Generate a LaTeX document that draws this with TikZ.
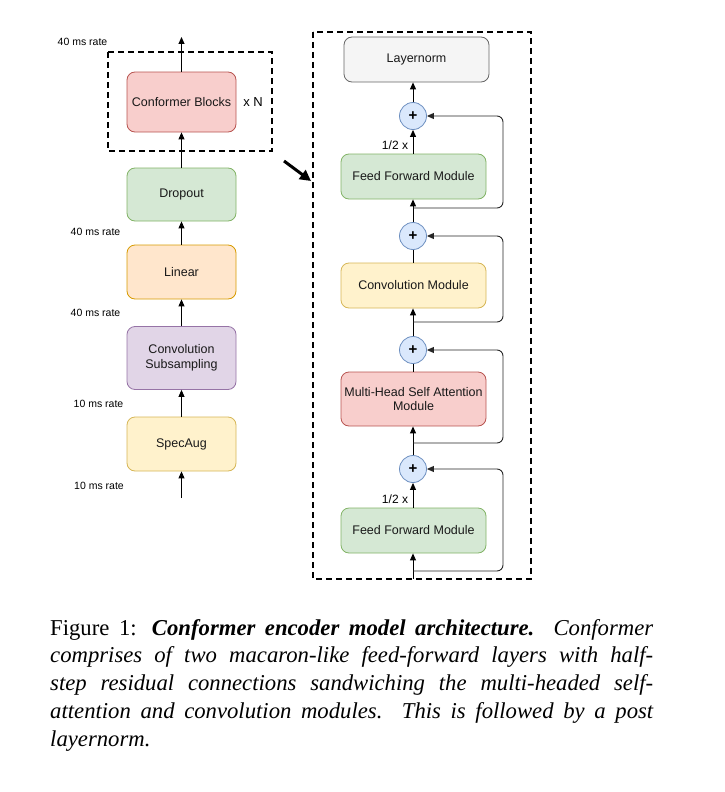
\documentclass[tikz,border=0pt]{standalone}
\usepackage{fontspec}
\setmainfont{Liberation Serif}
\newfontfamily\sansf{Liberation Sans}
\usetikzlibrary{arrows.meta}
\definecolor{redfill}{HTML}{F8CECC}\definecolor{redline}{HTML}{B85450}
\definecolor{grnfill}{HTML}{D5E8D4}\definecolor{grnline}{HTML}{82B366}
\definecolor{orgfill}{HTML}{FFE6CC}\definecolor{orgline}{HTML}{D79B00}
\definecolor{purfill}{HTML}{E1D5E7}\definecolor{purline}{HTML}{9673A6}
\definecolor{yelfill}{HTML}{FFF2CC}\definecolor{yelline}{HTML}{D6B656}
\definecolor{gryfill}{HTML}{F5F5F5}\definecolor{gryline}{HTML}{666666}
\definecolor{blufill}{HTML}{DAE8FC}\definecolor{bluline}{HTML}{6C8EBF}
\begin{document}
\begin{tikzpicture}[x=1pt,y=-1pt,
  blk/.style={draw, rounded corners=8pt, minimum width=109pt, line width=0.8pt,
    font=\sansf\fontsize{12.5}{14.5}\selectfont, align=center, inner sep=0pt, text=black!90},
  mod/.style={blk, minimum width=145pt, minimum height=45pt},
  plusc/.style={circle, draw=bluline, fill=blufill, line width=0.8pt, minimum size=27pt, inner sep=0pt,
    font=\sansf\bfseries\fontsize{15}{15}\selectfont},
  arr/.style={-{Triangle[length=7pt,width=6pt]}, line width=0.9pt},
  plain/.style={line width=0.9pt},
  res/.style={arr, rounded corners=6pt, draw=black!85},
  rate/.style={font=\sansf\fontsize{10.5}{12}\selectfont, inner sep=0pt},
  dbox/.style={line width=1.8pt, dash pattern=on 6pt off 4pt}]
\useasboundingbox (0,0) rectangle (724,792);

% ---------- left column ----------
\node[blk, fill=redfill, draw=redline, minimum height=60pt] (conf) at (181.5,102) {Conformer Blocks};
\node[blk, fill=grnfill, draw=grnline, minimum height=53pt] (drop) at (181.5,194.5) {Dropout};
\node[blk, fill=orgfill, draw=orgline, minimum height=54pt] (lin) at (181.5,272) {Linear};
\node[blk, fill=purfill, draw=purline, minimum height=63pt] (csub) at (181.5,358) {Convolution\\Subsampling};
\node[blk, fill=yelfill, draw=yelline, minimum height=54pt] (spec) at (181.5,444) {SpecAug};
\coordinate (lin0) at (181.5,498);
\coordinate (lout) at (181.5,37);
\draw[arr] (lin0) -- (spec.south);
\draw[arr] (spec.north) -- (csub.south);
\draw[arr] (csub.north) -- (lin.south);
\draw[arr] (lin.north) -- (drop.south);
\draw[arr] (drop.north) -- (conf.south);
\draw[arr] (conf.north) -- (lout);
\node[rate] (r1) at (82.5,42) {40 ms rate};
\node[rate] (r2) at (95.5,232) {40 ms rate};
\node[rate] (r3) at (95.5,313) {40 ms rate};
\node[rate] (r4) at (98.5,404) {10 ms rate};
\node[rate] (r5) at (99,486) {10 ms rate};
\node[font=\sansf\fontsize{13}{14}\selectfont, inner sep=0pt] (xn) at (253,102) {x N};
\draw[dbox] (108,52) rectangle (272,151);

% ---------- zoom arrow ----------
\coordinate (za) at (284,161);
\coordinate (zb) at (311,181);
\draw[line width=3pt, -{Triangle[length=11pt,width=11pt]}] (za) -- (zb);

% ---------- right block ----------
\draw[dbox] (313,32) rectangle (531,579);
\node[mod, fill=gryfill, draw=gryline] (ln) at (416.5,59.5) {Layernorm};
\node[plusc] (p1) at (413,116) {+};
\node[mod, fill=grnfill, draw=grnline] (ff1) at (413.5,176.5) {Feed Forward Module};
\node[plusc] (p2) at (413,236) {+};
\node[mod, fill=yelfill, draw=yelline] (cv) at (413.5,285.5) {Convolution Module};
\node[plusc] (p3) at (413,350) {+};
\node[mod, fill=redfill, draw=redline, minimum height=54pt] (mh) at (413.5,399) {Multi-Head Self Attention\\Module};
\node[plusc] (p4) at (413,469) {+};
\node[mod, fill=grnfill, draw=grnline] (ff2) at (413.5,530.5) {Feed Forward Module};

\coordinate (rin) at (413,579);
\coordinate (b4) at (413,571);
\coordinate (b3) at (413,443);
\coordinate (b2) at (413,322);
\coordinate (b1) at (413,208);

\draw[arr] (rin) -- (ff2.south -| rin);
\draw[res] (b4) -- (503,571) -- (503,469) -- (p4.east);
\draw[arr] (ff2.north -| rin) -- (p4.south);
\draw[arr] (p4.north) -- (mh.south -| p4);
\draw[res] (b3) -- (503,443) -- (503,350) -- (p3.east);
\draw[plain] (mh.north -| p3) -- (p3.south);
\draw[arr] (p3.north) -- (cv.south -| p3);
\draw[res] (b2) -- (503,322) -- (503,236) -- (p2.east);
\draw[plain] (cv.north -| p2) -- (p2.south);
\draw[arr] (p2.north) -- (ff1.south -| p2);
\draw[res] (b1) -- (503,208) -- (503,116) -- (p1.east);
\draw[arr] (ff1.north -| p1) -- (p1.south);
\draw[arr] (p1.north) -- (ln.south -| p1);

\node[font=\sansf\fontsize{12}{14}\selectfont, inner sep=0pt] (h1) at (395,145) {1/2 x};
\node[font=\sansf\fontsize{12}{14}\selectfont, inner sep=0pt] (h2) at (395,499) {1/2 x};

% ---------- caption ----------
\node[anchor=north west, inner sep=0pt, text width=603pt, align=justify,
  font=\fontsize{22.7}{27.8}\selectfont] (cap) at (50,619)
  {Figure 1: \textbf{\textit{Conformer encoder model architecture.}} \textit{Conformer\linebreak
  comprises of two macaron-like feed-forward layers with half-\linebreak
  step residual connections sandwiching the multi-headed self-\linebreak
  attention and convolution modules. This is followed by a post\linebreak
  layernorm.}};
\end{tikzpicture}
\end{document}
